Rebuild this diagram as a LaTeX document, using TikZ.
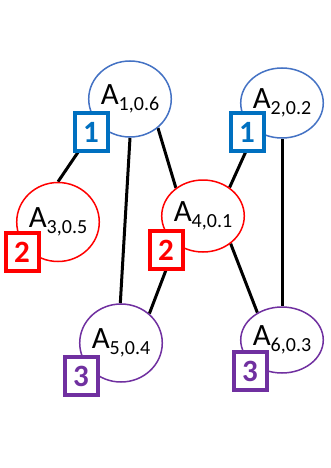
\documentclass[tikz,border=0pt]{standalone}
\usepackage{fontspec}
\setmainfont{Carlito}
\usetikzlibrary{shapes.geometric,backgrounds}
\definecolor{cblue}{HTML}{4472C4}
\definecolor{bblue}{HTML}{0070C0}
\definecolor{cred}{HTML}{FF0000}
\definecolor{cpurple}{HTML}{7030A0}
\newcommand{\lbl}[2]{\fontsize{31}{31}\selectfont A\raisebox{-6pt}{\fontsize{20}{20}\selectfont #1,#2}}
\tikzset{
  vert/.style={ellipse, draw=#1, line width=1.5pt, fill=white, inner sep=0pt, text=black},
  tag/.style={rectangle, draw=#1, line width=4pt, fill=white, text=#1, minimum width=33pt, minimum height=38pt, inner sep=0pt, font=\fontsize{31}{31}\selectfont\bfseries},
  edge/.style={draw=black, line width=3pt}
}
\begin{document}
\begin{tikzpicture}[x=1pt,y=-1pt]
\useasboundingbox (0,0) rectangle (331,468);
\node[vert=cblue, minimum width=78pt, minimum height=76pt] (A1) at (130,99) {\lbl{1}{0.6}};
\node[vert=cblue, minimum width=79pt, minimum height=70pt] (A2) at (282,103) {\lbl{2}{0.2}};
\node[vert=cred, minimum width=79pt, minimum height=79pt] (A3) at (58,222) {\lbl{3}{0.5}};
\node[vert=cred, minimum width=79pt, minimum height=72pt] (A4) at (203,216) {\lbl{4}{0.1}};
\node[vert=cpurple, minimum width=78pt, minimum height=78pt] (A5) at (121,343) {\lbl{5}{0.4}};
\node[vert=cpurple, minimum width=79pt, minimum height=66pt] (A6) at (282,340) {\lbl{6}{0.3}};
\node[tag=bblue] (T1) at (91,132) {1};
\node[tag=bblue] (T2) at (247,132) {1};
\node[tag=cred] (T3) at (22,252) {2};
\node[tag=cred] (T4) at (166,250) {2};
\node[tag=cpurple] (T5) at (81,376) {3};
\node[tag=cpurple] (T6) at (250,371) {3};
\begin{scope}[on background layer]
\draw[edge] (A3.90) -- (A1.217);
\draw[edge] (A1.270) -- (A5.91);
\draw[edge] (A1.314) -- (A4.134);
\draw[edge] (A4.226) -- (A5.46);
\draw[edge] (A2.226) -- (A4.47);
\draw[edge] (A2.270) -- (A6.90);
\draw[edge] (A4.315) -- (A6.132);
\end{scope}
\end{tikzpicture}
\end{document}
